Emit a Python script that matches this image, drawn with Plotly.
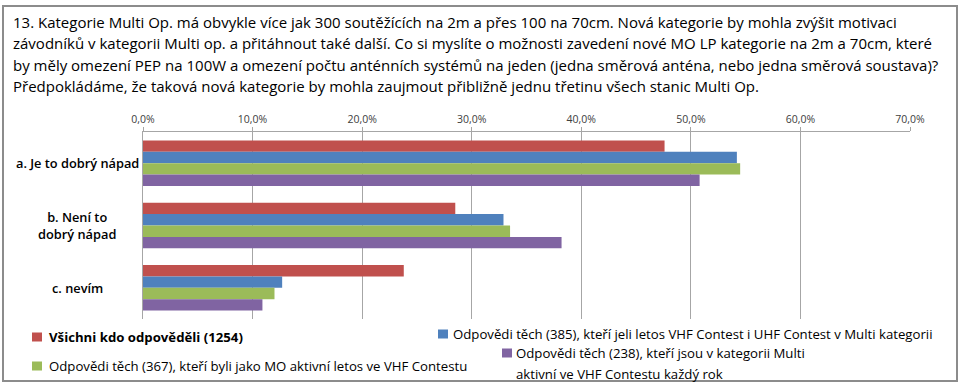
import plotly.graph_objects as go

categories = ["a. Je to dobrý nápad", "b. Není to<br>dobrý nápad", "c. nevím"]
series_names = [
    "Všichni kdo odpověděli (1254)",
    "Odpovědi těch (385), kteří jeli letos VHF Contest i UHF Contest v Multi kategorii",
    "Odpovědi těch (367), kteří byli jako MO aktivní letos ve VHF Contestu",
    "Odpovědi těch (238), kteří jsou v kategorii Multi<br>aktivní ve VHF Contestu každý rok",
]
series_colors = ["#C0504D", "#4F81BD", "#9BBB59", "#8064A2"]
all_resp = [47.6, 28.5, 23.8]
vhf_uhf_385 = [54.2, 32.9, 12.7]
mo_active_367 = [54.5, 33.5, 12.0]
multi_238 = [50.8, 38.2, 10.9]
series_values = [all_resp, vhf_uhf_385, mo_active_367, multi_238]
x_ticks = [0, 10, 20, 30, 40, 50, 60, 70]
x_tick_labels = ["0,0%", "10,0%", "20,0%", "30,0%", "40,0%", "50,0%", "60,0%", "70,0%"]

title_lines = [
    "13. Kategorie Multi Op. má obvykle více jak 300 soutěžících na 2m a přes 100 na 70cm. Nová kategorie by mohla zvýšit motivaci",
    "závodníků v kategorii Multi op. a přitáhnout také další. Co si myslíte o možnosti zavedení nové MO LP kategorie na 2m a 70cm, které",
    "by měly omezení PEP na 100W a omezení počtu anténních systémů na jeden (jedna směrová anténa, nebo jedna směrová soustava)?",
    "Předpokládáme, že taková nová kategorie by mohla zaujmout přibližně jednu třetinu všech stanic Multi Op.",
]

W, H = 960, 391
L, R, T, B = 143, 910, 132, 319
FONT = "Open Sans"


def px(x):
    return (x - L) / (R - L)


def py(y):
    return (B - y) / (B - T)


fig = go.Figure()
for name, vals, col in zip(series_names, series_values, series_colors):
    fig.add_trace(go.Bar(
        y=categories, x=vals, name=name.replace("<br>", " "), orientation="h",
        marker=dict(color=col, line=dict(width=0)),
        showlegend=False, hoverinfo="x+name",
    ))

annotations = []
for i, line in enumerate(title_lines):
    annotations.append(dict(
        text=line, xref="paper", yref="paper", x=px(11), y=py(22 + i * 21.3),
        xanchor="left", yanchor="middle", showarrow=False,
        font=dict(family=FONT, size=15, color="#000000"),
    ))

cat_label_x = 77
for c in categories:
    annotations.append(dict(
        text=c, xref="paper", yref="y", x=px(cat_label_x), y=c,
        xanchor="center", yanchor="middle", showarrow=False, align="center",
        font=dict(family=FONT, size=12.8, color="#000000", weight=600),
    ))

# custom legend
legend_pos = [(32, 337, 47, True), (438, 334, 451, False), (32, 366, 47, False), (502, 353, 514, False)]
shapes = []
for (sx, sy, tx, bold), name, col in zip(legend_pos, series_names, series_colors):
    shapes.append(dict(type="rect", xref="paper", yref="paper",
                       x0=px(sx), x1=px(sx + 10), y0=py(sy - 4.5), y1=py(sy + 4.5),
                       fillcolor=col, line=dict(width=0)))
    for j, part in enumerate(name.split("<br>")):
        annotations.append(dict(
            text=part, xref="paper", yref="paper", x=px(tx), y=py(sy + j * 21),
            xanchor="left", yanchor="middle",
            showarrow=False, align="left",
            font=dict(family=FONT, size=13.2, color="#000000", weight="bold" if bold else "normal"),
        ))

# outer frame
shapes.append(dict(type="rect", xref="paper", yref="paper",
                   x0=px(3), x1=px(957), y0=py(381), y1=py(6),
                   line=dict(color="#8C8C8C", width=2), fillcolor="rgba(0,0,0,0)", layer="below"))

fig.update_layout(
    width=W, height=H,
    margin=dict(l=L, r=W - R, t=T, b=H - B, pad=0),
    paper_bgcolor="white", plot_bgcolor="white",
    barmode="group", bargap=0.27, bargroupgap=0,
    annotations=annotations, shapes=shapes,
    xaxis=dict(
        side="top", range=[0, 70], tickvals=x_ticks, ticktext=x_tick_labels,
        showgrid=True, gridcolor="#A6A6A6", gridwidth=1,
        showline=True, linecolor="#A6A6A6", linewidth=1,
        ticks="outside", ticklen=4, tickcolor="#A6A6A6",
        tickfont=dict(family=FONT, size=10.5, color="#404040"),
        zeroline=False, fixedrange=True,
    ),
    yaxis=dict(
        autorange="reversed", showticklabels=False, showgrid=False,
        showline=True, linecolor="#A6A6A6", linewidth=1, zeroline=False, fixedrange=True,
    ),
    font=dict(family=FONT),
)

fig.write_html("out.html", config={"displayModeBar": False},
               post_script="document.body.style.margin='0';document.body.style.overflow='hidden';")
